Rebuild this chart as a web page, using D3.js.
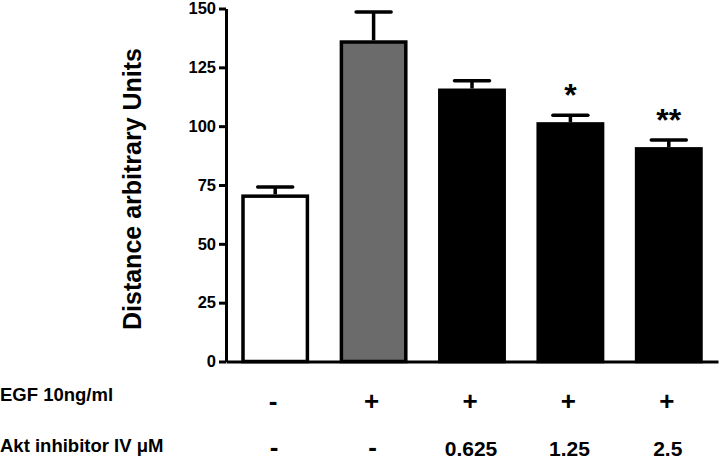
<!DOCTYPE html>
<html>
<head>
<meta charset="utf-8">
<script src="https://cdn.jsdelivr.net/npm/d3@7/dist/d3.min.js"></script>
<style>
  html, body { margin: 0; padding: 0; background: #fff; }
  svg { display: block; font-family: "Liberation Sans", Arial, sans-serif; font-weight: bold; }
</style>
</head>
<body>
<svg id="chart" width="720" height="462"></svg>
<script>
const groups = ["g1", "g2", "g3", "g4", "g5"];
const means = [71, 136.5, 116, 101.7, 91.1];
const errors = [3.2, 12, 3.3, 2.9, 3.0];
const fills = ["#ffffff", "#6b6b6b", "#000000", "#000000", "#000000"];
const significance = ["", "", "", "*", "**"];
const yTicks = [0, 25, 50, 75, 100, 125, 150];
const egfLabels = ["-", "+", "+", "+", "+"];
const aktLabels = ["-", "-", "0.625", "1.25", "2.5"];
const rowTitles = ["EGF 10ng/ml", "Akt inhibitor IV \u03BCM"];
const yTitle = "Distance arbitrary Units";

const svg = d3.select("#chart");

const x = d3.scaleBand().domain(groups).range([226, 718]).paddingInner(0.31).paddingOuter(0.155);
const y = d3.scaleLinear().domain([0, 150]).range([361.5, 8.5]);

const data = groups.map((g, i) => ({ g, m: means[i], e: errors[i], f: fills[i], s: significance[i] }));

// bars
const sw = 3.5;
svg.append("g").selectAll("rect").data(data).join("rect")
  .attr("x", d => x(d.g) + sw / 2)
  .attr("width", x.bandwidth() - sw)
  .attr("y", d => y(d.m) + sw / 2)
  .attr("height", d => y(0) - y(d.m) - sw / 2)
  .attr("fill", d => d.f)
  .attr("stroke", "#000")
  .attr("stroke-width", sw);

// error bars
const eg = svg.append("g").attr("stroke", "#000").attr("stroke-width", 3.5);
eg.selectAll("line.v").data(data).join("line").attr("class", "v")
  .attr("x1", d => x(d.g) + x.bandwidth() / 2)
  .attr("x2", d => x(d.g) + x.bandwidth() / 2)
  .attr("y1", d => y(d.m))
  .attr("y2", d => y(d.m + d.e));
eg.selectAll("line.c").data(data).join("line").attr("class", "c")
  .attr("x1", d => x(d.g) + x.bandwidth() / 2 - 17.5)
  .attr("x2", d => x(d.g) + x.bandwidth() / 2 + 17.5)
  .attr("y1", d => y(d.m + d.e))
  .attr("y2", d => y(d.m + d.e))
  .attr("stroke-linecap", "round");

// significance asterisks
svg.append("g").selectAll("text").data(data.filter(d => d.s)).join("text")
  .attr("x", d => x(d.g) + x.bandwidth() / 2)
  .attr("y", d => y(d.m + d.e) - 9)
  .attr("text-anchor", "middle")
  .attr("font-size", 32)
  .text(d => d.s);

// y axis
const yAxis = svg.append("g").attr("transform", "translate(226,0)")
  .call(d3.axisLeft(y).tickValues(yTicks).tickSize(7).tickSizeOuter(0).tickPadding(3));
yAxis.selectAll("path, line").attr("stroke", "#000").attr("stroke-width", 3);
yAxis.selectAll("text").attr("font-size", 16.5).attr("font-family", "Liberation Sans, Arial, sans-serif").attr("font-weight", "bold").attr("fill", "#000");

// x axis
const xAxis = svg.append("g").attr("transform", `translate(0,${y(0)})`)
  .call(d3.axisBottom(x).tickSize(0).tickSizeOuter(0).tickFormat(""));
xAxis.selectAll("path").attr("stroke", "#000").attr("stroke-width", 3);

// y title
svg.append("text")
  .attr("transform", "translate(141,189) rotate(-90)")
  .attr("text-anchor", "middle")
  .attr("font-size", 25)
  .text(yTitle);

// treatment table
svg.append("text").attr("x", 0).attr("y", 401).attr("font-size", 18.5).text(rowTitles[0]);
svg.append("text").attr("x", 0).attr("y", 452).attr("font-size", 18.5).text(rowTitles[1]);

svg.append("g").selectAll("text").data(groups).join("text")
  .attr("x", g => x(g) + x.bandwidth() / 2 - 2)
  .attr("y", 410)
  .attr("text-anchor", "middle")
  .attr("font-size", 26)
  .text((g, i) => egfLabels[i]);

svg.append("g").selectAll("text").data(groups).join("text")
  .attr("x", g => x(g) + x.bandwidth() / 2 - 1)
  .attr("y", 456)
  .attr("text-anchor", "middle")
  .attr("font-size", (g, i) => aktLabels[i] === "-" ? 26 : 21)
  .text((g, i) => aktLabels[i]);
</script>
</body>
</html>
